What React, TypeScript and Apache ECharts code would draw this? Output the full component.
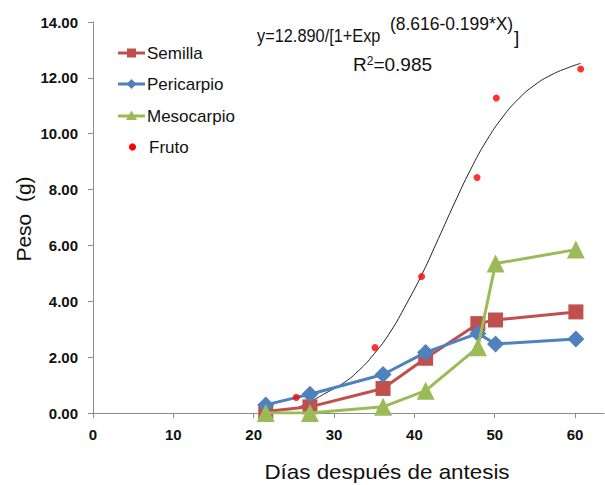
import React, { useEffect, useRef } from "react";
import * as echarts from "echarts";

const days = [21.5, 27, 36.1, 41.4, 47.9, 50.1, 60.1];
const semilla = [0.05, 0.22, 0.88, 1.96, 3.2, 3.33, 3.62];
const pericarpio = [0.29, 0.67, 1.38, 2.17, 2.85, 2.47, 2.65];
const mesocarpio = [0.0, 0.0, 0.22, 0.8, 2.35, 5.35, 5.85];
const frutoDays = [25.3, 35.1, 40.9, 47.8, 50.2, 60.7];
const fruto = [0.56, 2.34, 4.89, 8.43, 11.28, 12.32];
const curveDays = [25.3, 27, 29, 31, 33, 35, 37, 39, 41, 43, 45, 47, 49, 51, 53, 55, 57, 59, 60.7];
const curveVals = [0.17, 0.4, 0.72, 1.04, 1.5, 2.12, 2.9, 3.9, 5.0, 6.25, 7.52, 8.72, 9.76, 10.6, 11.26, 11.75, 12.1, 12.35, 12.52];
const xTicks = [0, 10, 20, 30, 40, 50, 60];
const seriesNames = ["Semilla", "Pericarpio", "Mesocarpio", "Fruto"];
const seriesColors = ["#C0504D", "#4F81BD", "#9BBB59", "#FF0000"];

const FONT = "Liberation Sans, Arial, sans-serif";
const TXT = "#111";

function legendGraphics() {
  const ys = [53, 84, 116, 147];
  const els: any[] = [];
  seriesNames.forEach((name, i) => {
    const y = ys[i];
    const c = seriesColors[i];
    const cx = 131.5;
    if (i < 3) {
      els.push({ type: "line", shape: { x1: 118, y1: y, x2: 145, y2: y }, style: { stroke: c, lineWidth: 3 } });
    }
    if (i === 0) {
      els.push({ type: "rect", shape: { x: cx - 4.5, y: y - 4.5, width: 9, height: 9 }, style: { fill: c } });
    } else if (i === 1) {
      els.push({ type: "polygon", shape: { points: [[cx, y - 5], [cx + 5, y], [cx, y + 5], [cx - 5, y]] }, style: { fill: c } });
    } else if (i === 2) {
      els.push({ type: "polygon", shape: { points: [[cx, y - 5.5], [cx + 5.5, y + 4], [cx - 5.5, y + 4]] }, style: { fill: c } });
    } else {
      els.push({ type: "circle", shape: { cx: cx + 1, cy: y, r: 3.6 }, style: { fill: c } });
    }
    els.push({
      type: "text",
      x: i === 3 ? 149 : 147,
      y,
      style: { text: name, fontSize: 17, fill: TXT, fontFamily: FONT, align: "left", verticalAlign: "middle" },
    });
  });
  return els;
}

export default function App() {
  const ref = useRef<HTMLDivElement>(null);
  useEffect(() => {
    if (!ref.current) return;
    const chart = echarts.init(ref.current, null, { renderer: "svg" });
    const zip = (xs: number[], ys: number[]) => xs.map((x, i) => [x, ys[i]]);
    chart.setOption({
      animation: false,
      backgroundColor: "#ffffff",
      textStyle: { fontFamily: FONT },
      grid: { left: 93, right: 1, top: 22, bottom: 72, containLabel: false },
      xAxis: {
        type: "value",
        min: 0,
        max: 63.6,
        interval: 10,
        splitLine: { show: false },
        axisLine: { lineStyle: { color: "#8c8c8c", width: 1 } },
        axisTick: { show: true, length: 5, lineStyle: { color: "#8c8c8c" }, customValues: xTicks },
        axisLabel: {
          customValues: xTicks,
          margin: 14,
          fontSize: 15,
          fontWeight: "bold",
          color: TXT,
          fontFamily: FONT,
          formatter: (v: number) => (v % 10 === 0 ? String(v) : ""),
        },
      },
      yAxis: {
        type: "value",
        min: 0,
        max: 14,
        interval: 2,
        splitLine: { show: false },
        axisLine: { show: true, lineStyle: { color: "#8c8c8c", width: 1 } },
        axisTick: { show: true, length: 5, lineStyle: { color: "#8c8c8c" } },
        axisLabel: {
          margin: 15,
          fontSize: 15,
          fontWeight: "bold",
          color: TXT,
          fontFamily: FONT,
          formatter: (v: number) => v.toFixed(2),
        },
      },
      graphic: [
        ...legendGraphics(),
        {
          type: "text",
          x: 257,
          y: 36,
          scaleX: 0.86,
          style: { text: "y=12.890/[1+Exp", fontSize: 19, fill: TXT, fontFamily: FONT, align: "left", verticalAlign: "middle" },
        },
        {
          type: "text",
          x: 390,
          y: 24,
          scaleX: 0.97,
          style: { text: "(8.616-0.199*X)", fontSize: 18, fill: TXT, fontFamily: FONT, align: "left", verticalAlign: "middle" },
        },
        {
          type: "text",
          x: 514,
          y: 37,
          style: { text: "]", fontSize: 19, fill: TXT, fontFamily: FONT, align: "left", verticalAlign: "middle" },
        },
        {
          type: "text",
          x: 353,
          y: 64,
          style: {
            text: "R{s|2}=0.985",
            fontSize: 19,
            fill: TXT,
            fontFamily: FONT,
            align: "left",
            verticalAlign: "middle",
            rich: { s: { fontSize: 12, verticalAlign: "top", fill: TXT, fontFamily: FONT, padding: [0, 0, 7, 0] } },
          },
        },
        {
          type: "text",
          x: 387,
          y: 472,
          scaleX: 1.12,
          style: {
            text: "Días después de antesis",
            fontSize: 20,
            fill: TXT,
            fontFamily: FONT,
            align: "center",
            verticalAlign: "middle",
          },
        },
        {
          type: "text",
          x: 23,
          y: 219,
          rotation: Math.PI / 2,
          style: {
            text: "Peso  (g)",
            fontSize: 21,
            fill: TXT,
            fontFamily: FONT,
            align: "center",
            verticalAlign: "middle",
          },
        },
      ],
      series: [
        {
          name: "Trend",
          type: "line",
          data: zip(curveDays, curveVals),
          smooth: true,
          symbol: "none",
          lineStyle: { color: "#222", width: 1 },
          z: 1,
          silent: true,
        },
        {
          name: seriesNames[0],
          type: "line",
          data: zip(days, semilla),
          symbol: "rect",
          symbolSize: 15,
          itemStyle: { color: seriesColors[0] },
          lineStyle: { color: seriesColors[0], width: 3 },
          z: 3,
        },
        {
          name: seriesNames[1],
          type: "line",
          data: zip(days, pericarpio),
          symbol: "diamond",
          symbolSize: 17,
          itemStyle: { color: seriesColors[1] },
          lineStyle: { color: seriesColors[1], width: 3 },
          z: 4,
        },
        {
          name: seriesNames[2],
          type: "line",
          data: zip(days, mesocarpio),
          symbol: "triangle",
          symbolSize: 18,
          itemStyle: { color: seriesColors[2] },
          lineStyle: { color: seriesColors[2], width: 3 },
          z: 5,
        },
        {
          name: seriesNames[3],
          type: "scatter",
          data: zip(frutoDays, fruto),
          symbol: "circle",
          symbolSize: 7,
          itemStyle: { color: seriesColors[3] },
          z: 6,
        },
      ],
    });
    return () => chart.dispose();
  }, []);
  return (
    <div
      ref={ref}
      style={{ position: "fixed", left: 0, top: 0, width: 605, height: 485, background: "#fff" }}
    />
  );
}
